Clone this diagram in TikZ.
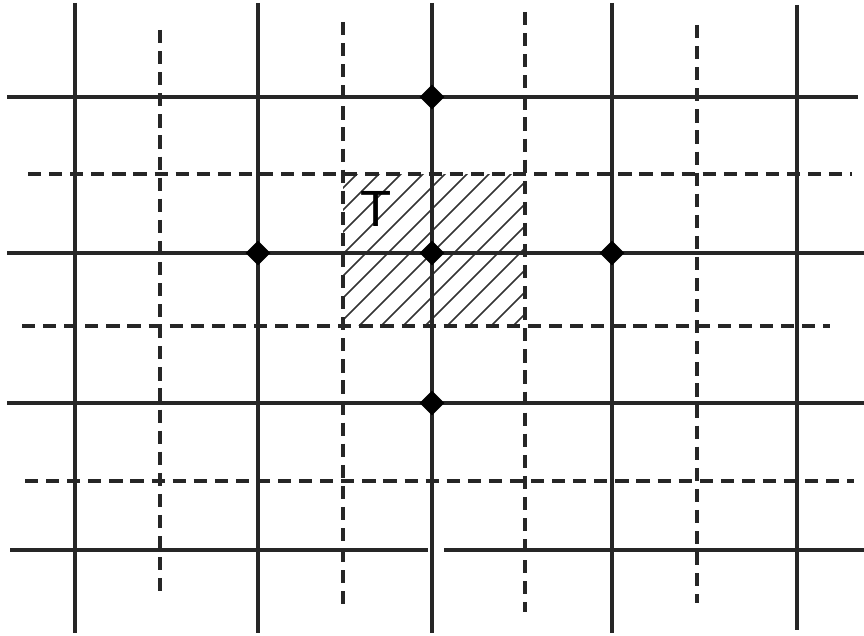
\documentclass[tikz,border=0pt]{standalone}
\usepackage{fontspec}
\setsansfont{Liberation Sans}
\usepackage{tikz}
\usetikzlibrary{shapes.geometric}

\begin{document}
\begin{tikzpicture}[
  x=0.02cm, y=-0.02cm,
  solid line/.style ={draw=black!85, line width=2pt},
  dash line/.style  ={draw=black!85, line width=1.9pt, dash pattern=on 7.5pt off 4.5pt},
  hatch/.style      ={draw=black!80, line width=0.9pt},
  site/.style       ={diamond, fill=black, inner sep=0pt, minimum size=0.5cm},
  lbl/.style        ={font=\sffamily\fontsize{29}{29}\selectfont, inner sep=0pt},
]
  \useasboundingbox (0,0) rectangle (864,635);

  % --- hatched cell ---
  \begin{scope}
    \clip (343,174) rectangle (525,326);
    \foreach \s in {-160,-138,...,520}
      \draw[hatch] (\s+343,326) -- (\s+543,126);
  \end{scope}

  % --- solid grid ---
  \draw[solid line] (75,3) -- (75,633);
  \draw[solid line] (258,3) -- (258,633);
  \draw[solid line] (432,3) -- (432,633);
  \draw[solid line] (612,3) -- (612,633);
  \draw[solid line] (797,5) -- (797,630);
  \draw[solid line] (7,97) -- (858,97);
  \draw[solid line] (7,253) -- (864,253);
  \draw[solid line] (7,403) -- (864,403);
  \draw[solid line] (10,550) -- (428,550);
  \draw[solid line] (444,550) -- (864,550);

  % --- dashed grid ---
  \draw[dash line] (160,30) -- (160,597);
  \draw[dash line] (343,22) -- (343,605);
  \draw[dash line] (525,12) -- (525,612);
  \draw[dash line] (697,25) -- (697,603);
  \draw[dash line] (28,174) -- (852,174);
  \draw[dash line] (22,326) -- (830,326);
  \draw[dash line] (25,481) -- (854,481);

  % --- sites ---
  \node[site] (dTop)    at (432,97)  {};
  \node[site] (dLeft)   at (258,253) {};
  \node[site] (dCenter) at (432,253) {};
  \node[site] (dRight)  at (612,253) {};
  \node[site] (dBottom) at (432,403) {};

  \node[lbl] (cellT) at (376,209) {T};
\end{tikzpicture}
\end{document}
